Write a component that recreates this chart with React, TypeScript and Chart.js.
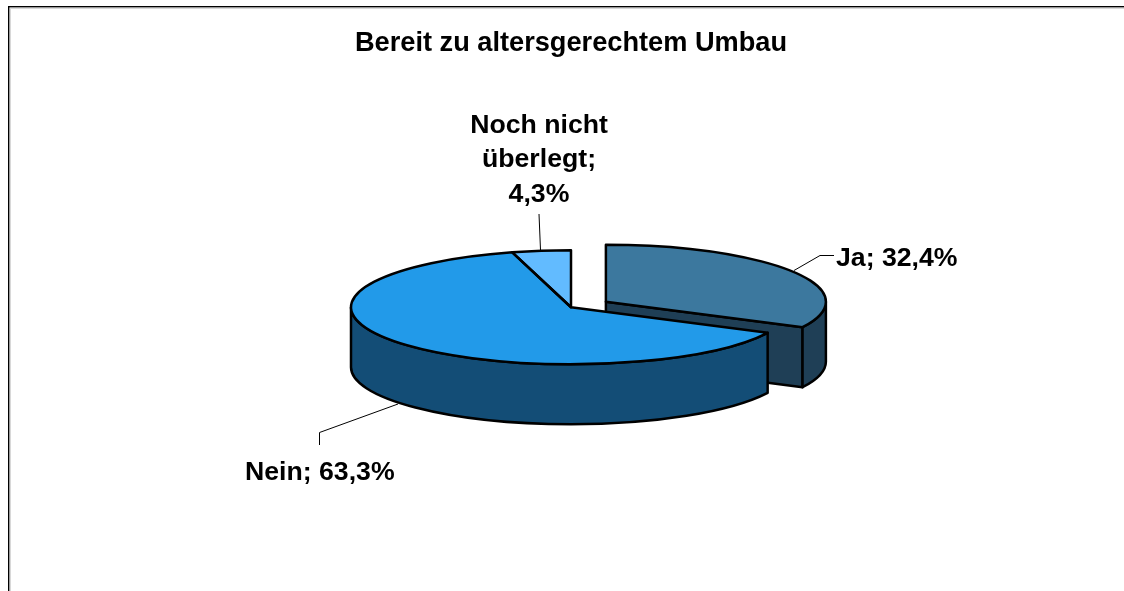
import React, { useEffect, useRef } from "react";
import { Chart, registerables } from "chart.js";

Chart.register(...registerables);

const titleText = "Bereit zu altersgerechtem Umbau";
const categories = ["Ja", "Nein", "Noch nicht überlegt"];
const values = [32.4, 63.3, 4.3];
const topColors = ["#3c789e", "#229ae9", "#62bbff"];
const wallColors = ["#1f3f56", "#134d76", "#2a6ca0"];
const sliceOffsets = [164, 0, 0];

const FONT = '"Liberation Sans", Arial, sans-serif';
const SQUASH = 0.259;
const DEPTH = 60;
const PIE_RADIUS = 220;
const EDGE = "#000000";
const EDGE_WIDTH = 2.5;

const pct = (v: number) => v.toFixed(1).replace(".", ",") + "%";

function geom(arc: any, offset: number) {
  const half = (arc.startAngle + arc.endAngle) / 2;
  const d = offset / 4;
  return {
    cx: arc.x + Math.cos(half) * d,
    cy: arc.y + Math.sin(half) * d * SQUASH,
    r: arc.outerRadius,
    a0: arc.startAngle,
    a1: arc.endAngle,
  };
}

function drawRim(ctx: CanvasRenderingContext2D, arc: any, offset: number, color: string) {
  const g = geom(arc, offset);
  const ry = g.r * SQUASH;
  const from = Math.max(g.a0, 0);
  const to = Math.min(g.a1, Math.PI);
  if (to <= from) return;
  ctx.beginPath();
  ctx.ellipse(g.cx, g.cy, g.r, ry, 0, from, to);
  ctx.ellipse(g.cx, g.cy + DEPTH, g.r, ry, 0, to, from, true);
  ctx.closePath();
  ctx.fillStyle = color;
  ctx.fill();
  ctx.stroke();
}

function drawEndFace(ctx: CanvasRenderingContext2D, arc: any, offset: number, color: string) {
  const g = geom(arc, offset);
  const ex = g.cx + g.r * Math.cos(g.a1);
  const ey = g.cy + g.r * SQUASH * Math.sin(g.a1);
  ctx.beginPath();
  ctx.moveTo(g.cx, g.cy);
  ctx.lineTo(ex, ey);
  ctx.lineTo(ex, ey + DEPTH);
  ctx.lineTo(g.cx, g.cy + DEPTH);
  ctx.closePath();
  ctx.fillStyle = color;
  ctx.fill();
  ctx.stroke();
}

const pie3d = {
  id: "pie3d",
  afterDatasetsUpdate(chart: any) {
    // Chart.js grows an offset slice's radius; keep every slice the same size
    const arcs = chart.getDatasetMeta(0).data;
    arcs.forEach((arc: any, i: number) => {
      const c = arc.endAngle - arc.startAngle;
      const fix = 1 - Math.sin(Math.min(Math.PI, c));
      arc.outerRadius = PIE_RADIUS - (sliceOffsets[i] / 4) * fix;
    });
  },
  beforeDatasetsDraw(chart: any) {
    const ctx: CanvasRenderingContext2D = chart.ctx;
    const arcs = chart.getDatasetMeta(0).data;
    ctx.save();
    ctx.strokeStyle = EDGE;
    ctx.lineWidth = EDGE_WIDTH;
    ctx.lineJoin = "round";
    const flat = arcs.map((a: any) => ({
      x: a.x,
      y: a.y,
      startAngle: a.startAngle,
      endAngle: a.endAngle,
      outerRadius: PIE_RADIUS,
    }));
    drawEndFace(ctx, flat[0], sliceOffsets[0], wallColors[0]);
    drawRim(ctx, flat[0], sliceOffsets[0], wallColors[0]);
    drawRim(ctx, flat[1], sliceOffsets[1], wallColors[1]);
    ctx.restore();

    const { x, y } = arcs[0];
    ctx.save();
    ctx.translate(x, y);
    ctx.scale(1, SQUASH);
    ctx.translate(-x, -y);
  },
  afterDatasetsDraw(chart: any) {
    const ctx: CanvasRenderingContext2D = chart.ctx;
    ctx.restore();
    const arcs = chart.getDatasetMeta(0).data;
    ctx.save();
    ctx.strokeStyle = EDGE;
    ctx.lineWidth = EDGE_WIDTH;
    ctx.lineJoin = "round";
    arcs.forEach((a: any, i: number) => {
      const g = geom(a, sliceOffsets[i]);
      ctx.beginPath();
      ctx.moveTo(g.cx, g.cy);
      ctx.ellipse(g.cx, g.cy, PIE_RADIUS, PIE_RADIUS * SQUASH, 0, g.a0, g.a1);
      ctx.closePath();
      ctx.stroke();
    });
    ctx.restore();
  },
  afterDraw(chart: any) {
    const ctx: CanvasRenderingContext2D = chart.ctx;
    ctx.save();
    // outer frame
    ctx.fillStyle = "#000";
    ctx.fillRect(8, 6, 1116, 1.4);
    ctx.fillRect(8, 6, 1.4, 585);
    ctx.fillStyle = "#d8d8d8";
    ctx.fillRect(10, 8, 1, 583);
    ctx.fillRect(10, 8, 1114, 1);

    // leader lines
    ctx.strokeStyle = "#000";
    ctx.lineWidth = 1;
    const leaders = [
      [[794, 270.5], [820, 255.5], [834, 255.5]],
      [[398, 404], [319.5, 432.5], [319.5, 445]],
      [[539, 214], [540.5, 250]],
    ];
    leaders.forEach((pts) => {
      ctx.beginPath();
      pts.forEach((p, i) => (i ? ctx.lineTo(p[0], p[1]) : ctx.moveTo(p[0], p[1])));
      ctx.stroke();
    });

    // data labels
    ctx.fillStyle = "#000";
    ctx.font = `bold 26.67px ${FONT}`;
    ctx.textBaseline = "alphabetic";
    ctx.textAlign = "left";
    ctx.fillText(`${categories[0]}; ${pct(values[0])}`, 836, 266);
    ctx.fillText(`${categories[1]}; ${pct(values[1])}`, 245, 480);
    ctx.textAlign = "center";
    ctx.fillText("Noch nicht", 539, 133);
    ctx.fillText("überlegt;", 539, 167);
    ctx.fillText(pct(values[2]), 539, 202);
    ctx.restore();
  },
};

export default function App() {
  const ref = useRef<HTMLCanvasElement>(null);
  useEffect(() => {
    const chart = new Chart(ref.current!, {
      type: "pie",
      plugins: [pie3d],
      data: {
        labels: categories,
        datasets: [
          {
            data: values,
            backgroundColor: topColors,
            borderWidth: 0,
            offset: sliceOffsets,
            clip: false,
          } as any,
        ],
      },
      options: {
        responsive: false,
        animation: false,
        radius: PIE_RADIUS,
        layout: { padding: { left: 18, right: 0, top: 0, bottom: 37.6 } },
        events: [],
        plugins: {
          legend: { display: false },
          tooltip: { enabled: false },
          title: {
            display: true,
            text: titleText,
            color: "#000",
            font: { family: FONT, weight: "bold", size: 27.2 },
            padding: { top: 27, bottom: 1.4 },
          },
        },
      } as any,
    });
    return () => chart.destroy();
  }, []);
  return (
    <canvas
      ref={ref}
      width={1124}
      height={591}
      style={{ position: "absolute", left: 0, top: 0, display: "block" }}
    />
  );
}
